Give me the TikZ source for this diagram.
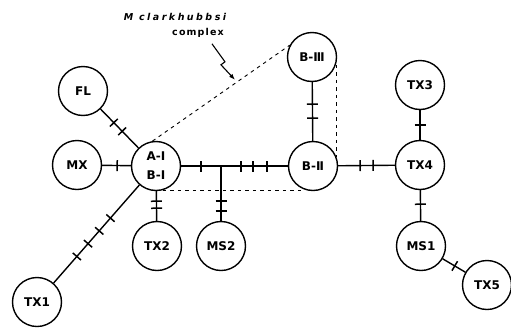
\documentclass[tikz,border=0pt]{standalone}
\usepackage{fontspec}
\newfontfamily\lblfont{DejaVu Sans}
\newfontfamily\capfont[LetterSpace=12]{DejaVu Sans}
\newfontfamily\spfont[LetterSpace=26]{DejaVu Sans}
\usetikzlibrary{decorations.markings,arrows.meta}
\tikzset{
  taxon/.style={circle, draw, line width=1.4pt, minimum size=49pt, inner sep=0pt,
    font=\lblfont\bfseries\fontsize{12}{19}\selectfont},
  link/.style={line width=1.4pt},
  tk/.style={postaction={decorate, decoration={markings,
    mark=at position #1 with {\draw[line width=1.5pt] (0,-5.5pt) -- (0,5.5pt);}}}},
  hull/.style={line width=0.9pt, dash pattern=on 3.5pt off 4pt},
  note/.style={inner sep=0pt, font=\capfont\bfseries\fontsize{9.5}{10}\selectfont},
}
\begin{document}
\begin{tikzpicture}[x=1pt,y=-1pt]
\useasboundingbox (0,0) rectangle (511,327);

% populations
\node[taxon] (fl)  at (83,91)   {FL};
\node[taxon] (mx)  at (77,165)  {MX};
\node[taxon, align=center] (ai) at (156,166) {A-Ⅰ\\B-Ⅰ};
\node[taxon] (tx1) at (37,302)  {TX1};
\node[taxon] (tx2) at (157,246) {TX2};
\node[taxon] (ms2) at (221,246) {MS2};
\node[taxon] (b3)  at (312,57)  {B-Ⅲ};
\node[taxon] (b2)  at (313,166) {B-Ⅱ};
\node[taxon] (tx3) at (420,85)  {TX3};
\node[taxon] (tx4) at (420,165) {TX4};
\node[taxon] (ms1) at (421,246) {MS1};
\node[taxon] (tx5) at (487,285) {TX5};

% network branches with change marks
\coordinate (jn) at (ms2 |- ai);
\draw[link, tk=19pt, tk=31pt] (fl) -- (ai);
\draw[link, tk=15pt] (mx) -- (ai);
\draw[link, tk=44pt, tk=61pt, tk=78pt, tk=95pt] (ai) -- (tx1);
\draw[link, tk=10pt, tk=17pt] (ai) -- (tx2);
\draw[link, tk=20pt, tk=60pt, tk=72pt, tk=86pt] (ai) -- (b2);
\draw[link, tk=35pt, tk=45pt] (jn) -- (ms2);
\draw[link, tk=22pt, tk=36pt] (b3) -- (b2);
\draw[link, tk=22pt, tk=35pt] (b2) -- (tx4);
\draw[link, tk=15pt] (tx3) -- (tx4);
\draw[link, tk=14pt] (tx4) -- (ms1);
\draw[link, tk=14pt] (ms1) -- (tx5);

% outline of the species complex
\draw[hull] (ai.98) -- (b3.152);
\draw[hull] (b3.-18) -- (b3.-18 |- b2.22);
\draw[hull] (ai.-74) -- (ai.-74 -| b2.-113);

% label and pointer
\node[note, font=\spfont\bfseries\itshape\fontsize{9.5}{10}\selectfont] (sp) at (175,17) {M clarkhubbsi};
\node[note] (cx) at (198,33) {complex};
\draw[line width=1.1pt, -{Latex[length=6pt,width=4.5pt]}]
  (cx.south east) ++(-12,6) -- ++(13,18) -- ++(-4,3) -- ++(14,15);
\end{tikzpicture}
\end{document}
